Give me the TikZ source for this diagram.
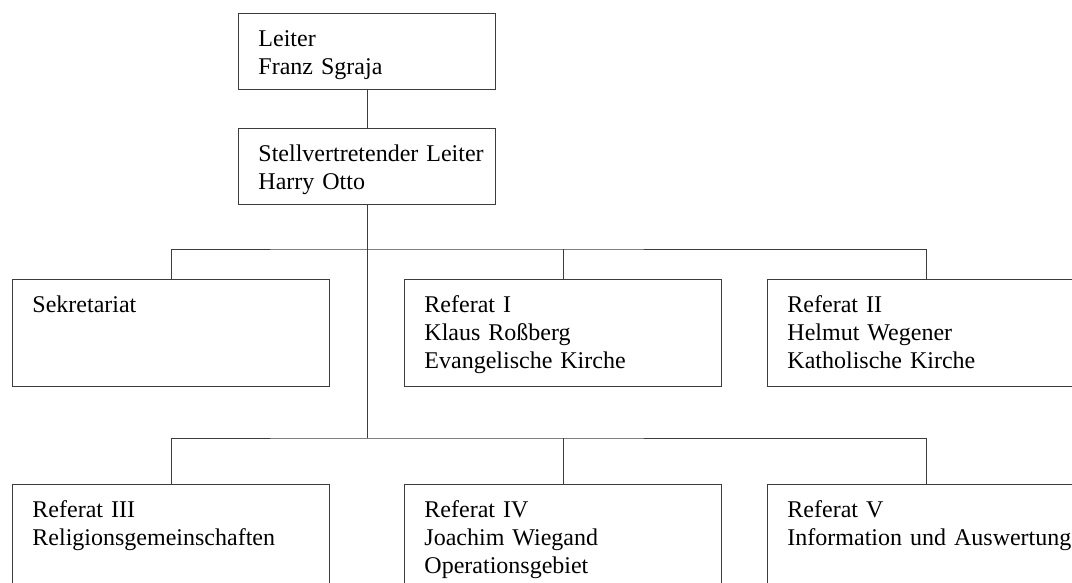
\documentclass[tikz,border=0pt]{standalone}
\usepackage{fontspec}
\setmainfont{Liberation Serif}
\usepackage{tikz}
\definecolor{lineclr}{RGB}{60, 60, 60}

\tikzset{
    orgbox/.style={draw=lineclr, line width=0.9pt, anchor=north west, inner xsep=10pt, inner ysep=0pt,
        align=left, font=\fontsize{24}{28}\selectfont, execute at begin node={\leftskip=10pt}},
    headbox/.style={orgbox, text width=237pt, text height=33pt, text depth=43pt},
    unitbox/.style={orgbox, text width=297pt, text height=33pt, text depth=74pt},
    link/.style={draw=lineclr, line width=0.9pt}
}

\begin{document}
\begin{tikzpicture}[x=1pt, y=-1pt]
                \clip (0,0) rectangle (1072,583);

                % Leitung
                \node[headbox] (leiter) at (238,13) {Leiter\\Franz Sgraja};
                \node[headbox] (stv) at (238,128) {Stellvertretender Leiter\\Harry Otto};

                % Erste Reihe
                \node[unitbox] (sek) at (12,279) {Sekretariat};
                \node[unitbox] (ref1) at (404,279) {Referat I\\Klaus Roßberg\\Evangelische Kirche};
                \node[unitbox] (ref2) at (767,279) {Referat II\\Helmut Wegener\\Katholische Kirche};

                % Zweite Reihe
                \node[unitbox] (ref3) at (12,484) {Referat III\\Religionsgemeinschaften};
                \node[unitbox] (ref4) at (404,484) {Referat IV\\Joachim Wiegand\\Operationsgebiet};
                \node[unitbox] (ref5) at (767,484) {Referat V\\Information und Auswertung};

                % Verbindungen
                \coordinate (knot1) at (stv.south |- 0,249);
                \coordinate (knot2) at (stv.south |- 0,438);
                \draw[link] (leiter.south) -- (stv.north);
                \draw[link] (stv.south) -- (knot2);
                \draw[link] (sek.north) |- (knot1) -| (ref2.north);
                \draw[link] (ref1.north) -- (ref1.north |- knot1);
                \draw[link] (ref3.north) |- (knot2) -| (ref5.north);
                \draw[link] (ref4.north) -- (ref4.north |- knot2);
            \end{tikzpicture}
\end{document}
